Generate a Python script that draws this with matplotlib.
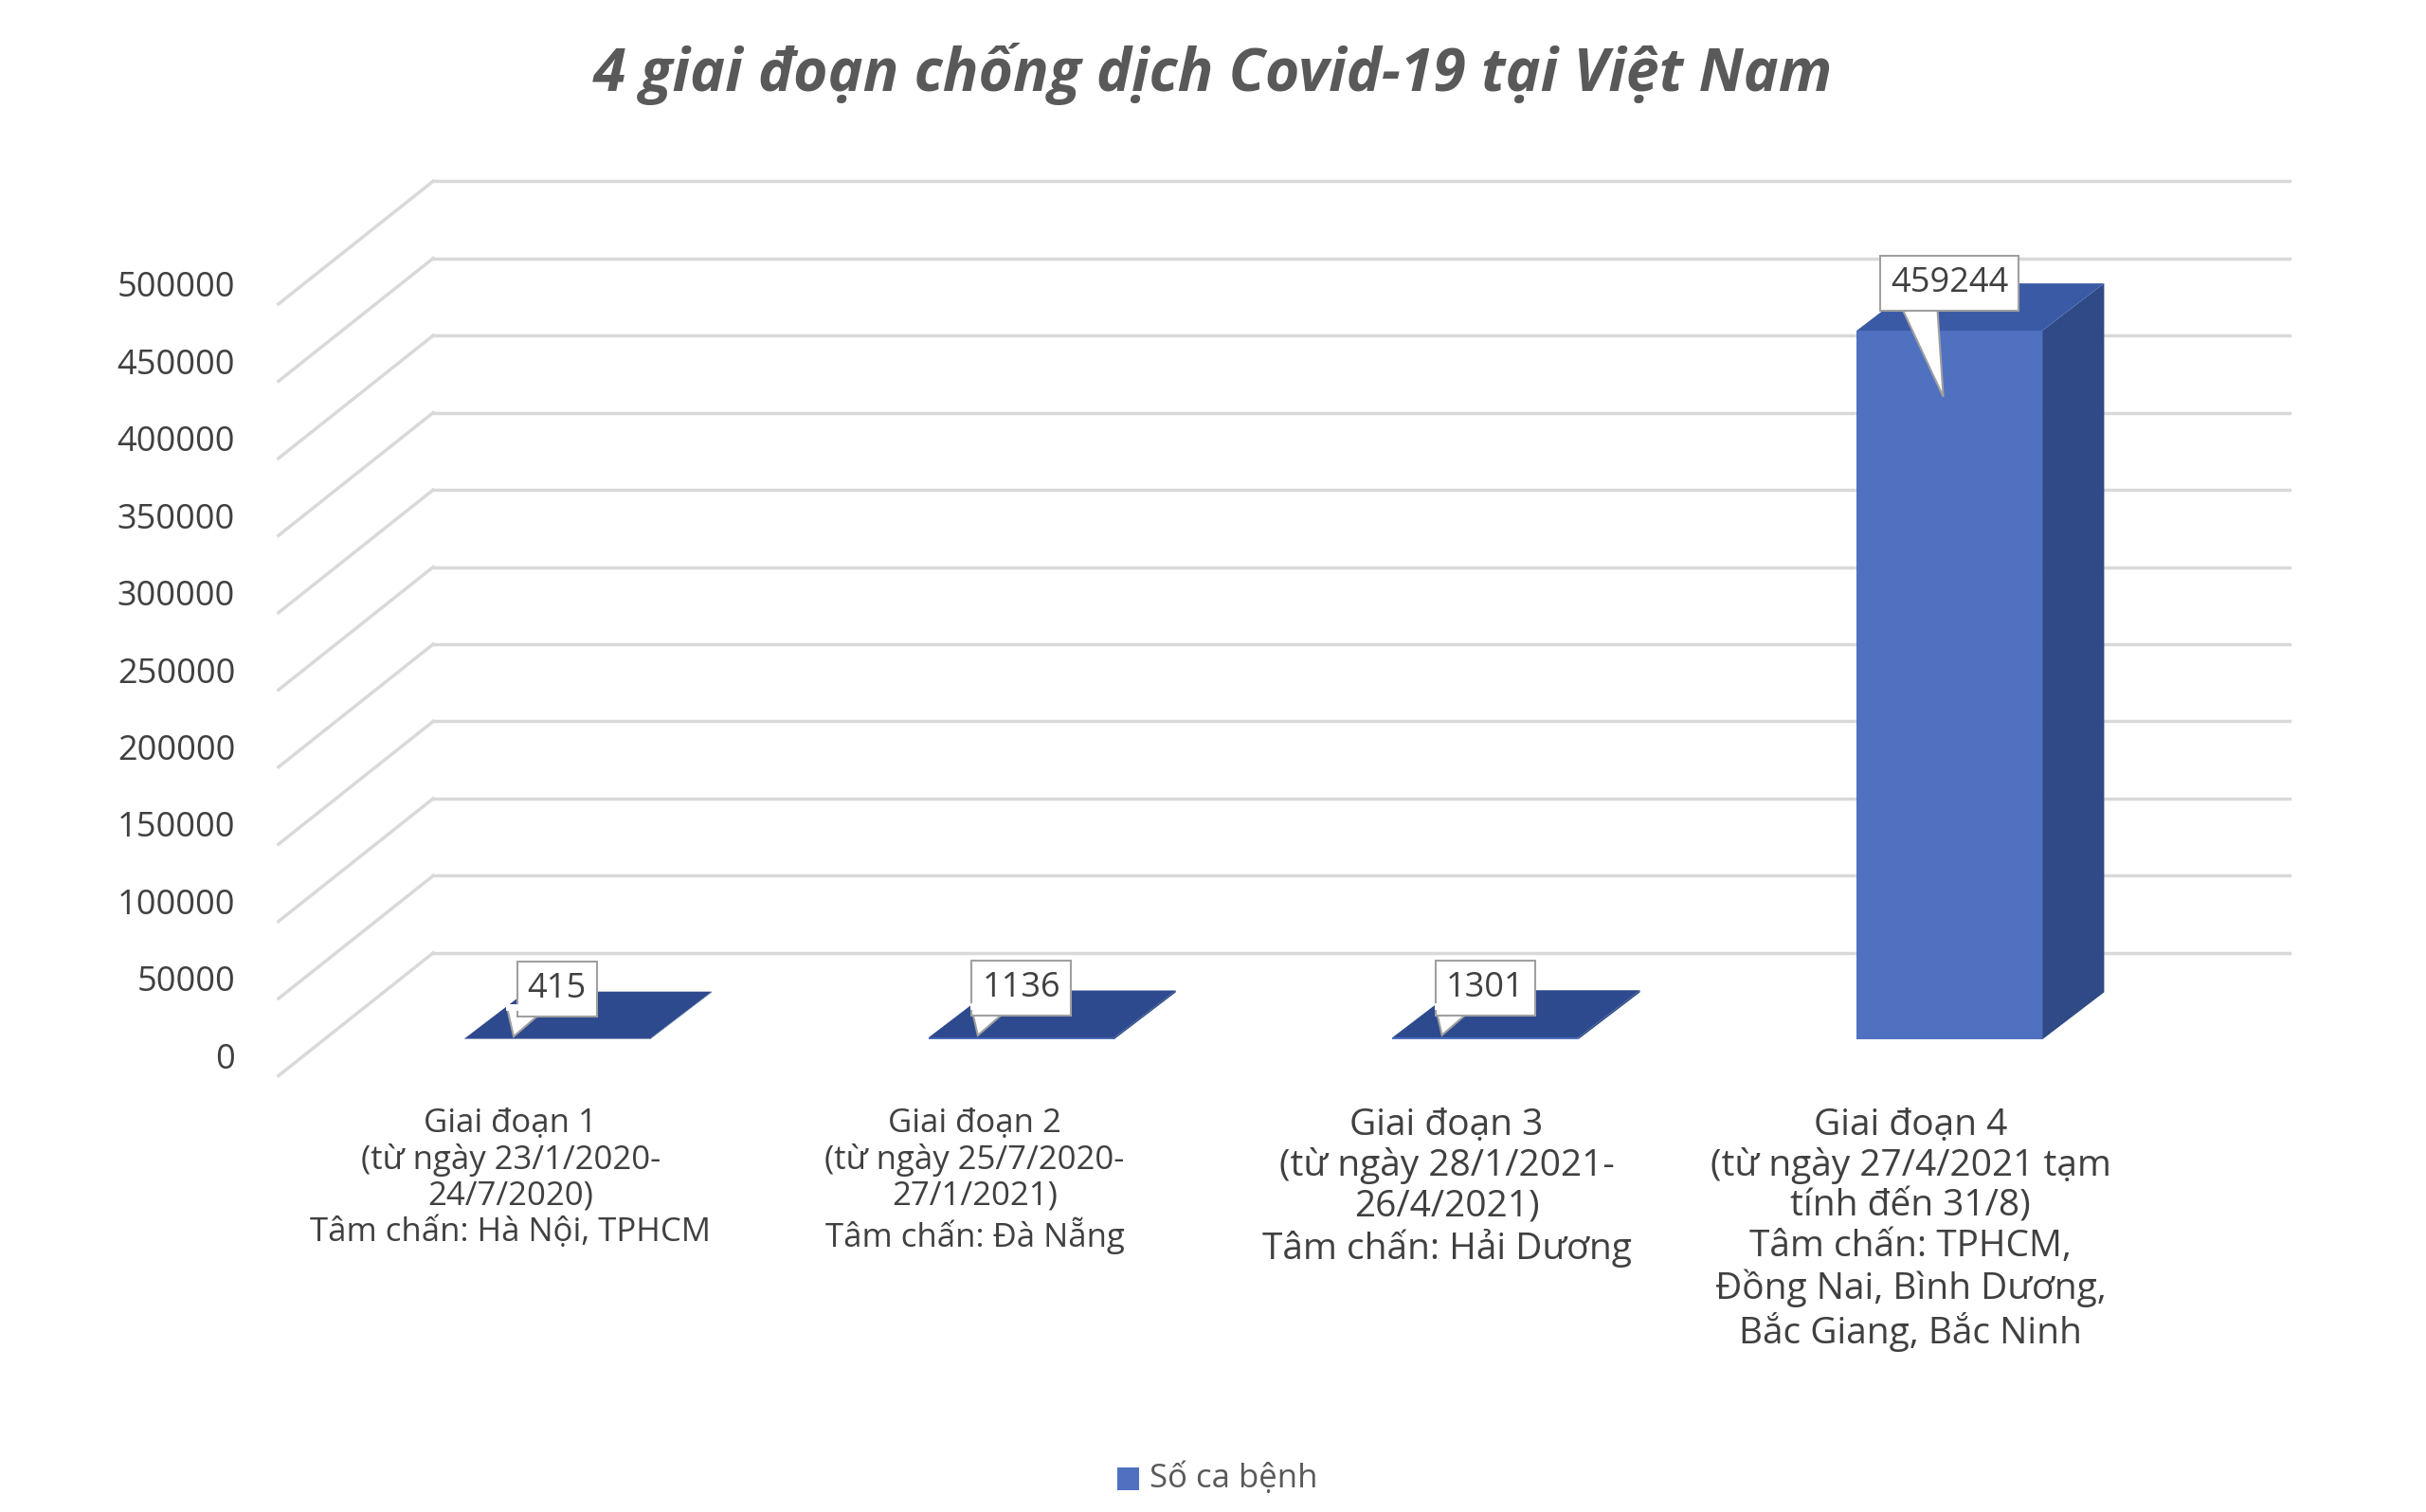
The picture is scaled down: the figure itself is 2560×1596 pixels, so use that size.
import matplotlib
matplotlib.use("Agg")
import matplotlib.pyplot as plt
from matplotlib.patches import Polygon

categories = ["Giai đoạn 1\n(từ ngày 23/1/2020-\n24/7/2020)\nTâm chấn: Hà Nội, TPHCM",
              "Giai đoạn 2\n(từ ngày 25/7/2020-\n27/1/2021)\nTâm chấn: Đà Nẵng",
              "Giai đoạn 3\n(từ ngày 28/1/2021-\n26/4/2021)\nTâm chấn: Hải Dương",
              "Giai đoạn 4\n(từ ngày 27/4/2021 tạm\ntính đến 31/8)\nTâm chấn: TPHCM,\nĐồng Nai, Bình Dương,\nBắc Giang, Bắc Ninh"]
values = [415, 1136, 1301, 459244]
ticks = list(range(0, 500001, 50000))
series_name = "Số ca bệnh"
title = "4 giai đoạn chống dịch Covid-19 tại Việt Nam"

plt.rcParams["font.family"] = "Open Sans"
fig = plt.figure(figsize=(25.6, 15.96), dpi=100)
ax = fig.add_axes([0, 0, 1, 1])
ax.set_axis_off()
PX = 49 / 50000.0  # reference px per value unit
ax.set_xlim(0, 1568)
ax.set_ylim(-(960 - 683) / PX, 683 / PX)

DX, DY = 100, 78 / PX          # floor depth offset
x0 = 180
xback_end = 1480
grid_c = "#d9d9d9"
for t in ticks:
    ax.plot([x0, x0 + DX], [t, t + DY], color=grid_c, lw=2.5, zorder=1)
    ax.plot([x0 + DX, xback_end], [t + DY, t + DY], color=grid_c, lw=2.5, zorder=1)
for t in ticks:
    ax.text(x0 - 28, t + 10 / PX, str(t), ha="right", va="center", fontsize=26, color="#404040")

front_c, side_c, top_c = "#4f71c0", "#2f4a86", "#3a5aa5"
bw, bd = 120, 40
bdy = 30 / PX
f = 0.295
for i, v in enumerate(values):
    xl = 300 + 300 * i
    yb = f * DY
    ax.add_patch(Polygon([[xl, yb], [xl + bw, yb], [xl + bw, yb + v], [xl, yb + v]],
                         closed=True, fc=front_c, ec="none", zorder=3))
    ax.add_patch(Polygon([[xl + bw, yb], [xl + bw + bd, yb + bdy], [xl + bw + bd, yb + v + bdy], [xl + bw, yb + v]],
                         closed=True, fc=side_c, ec="none", zorder=3))
    ax.add_patch(Polygon([[xl, yb + v], [xl + bw, yb + v], [xl + bw + bd, yb + v + bdy], [xl + bd, yb + v + bdy]],
                         closed=True, fc=(top_c if v > 20000 else "#2e4a8e"), ec="none", zorder=3))
    big = v > 20000
    cx = xl + bw / 2
    cy = yb + v + (1.0 if big else 1.05) * bdy
    ax.text(cx, cy, str(v), ha="center", va="center", fontsize=26, color="#404040", zorder=6,
            bbox=dict(boxstyle="square,pad=0.3", fc="white", ec="#a0a0a0", lw=1.5))
    top = cy - 13 / PX
    tail = [[cx - 32, top], [cx - 8, top], [cx - 4 if big else cx - 28, cy - (72 if big else 30) / PX]]
    ax.add_patch(Polygon(tail, closed=True, fc="white", ec="#a0a0a0", lw=1.5, zorder=5))
    ax.plot([tail[0][0] + 1, tail[1][0] - 1], [top + 1.5 / PX, top + 1.5 / PX], color="white", lw=5, zorder=7)
    fs = 25 if i < 2 else 28
    ax.text(xl + bw / 2 - 30 + (5 if i >= 2 else 0), -(703 - 683) / PX, categories[i], ha="center", va="top",
            fontsize=fs, color="#404040", linespacing=1.15)

ax.text(784, (683 - 47) / PX, title, ha="center", va="center", fontsize=45, fontweight="bold",
        fontstyle="italic", color="#595959")
ax.add_patch(Polygon([[722, -(946 - 683) / PX], [736, -(946 - 683) / PX], [736, -(932 - 683) / PX], [722, -(932 - 683) / PX]],
                     closed=True, fc=front_c, ec="none"))
ax.text(743, -(939 - 683) / PX, series_name, ha="left", va="center", fontsize=25, color="#595959")
fig.savefig("out.png", dpi=100, facecolor="white")
